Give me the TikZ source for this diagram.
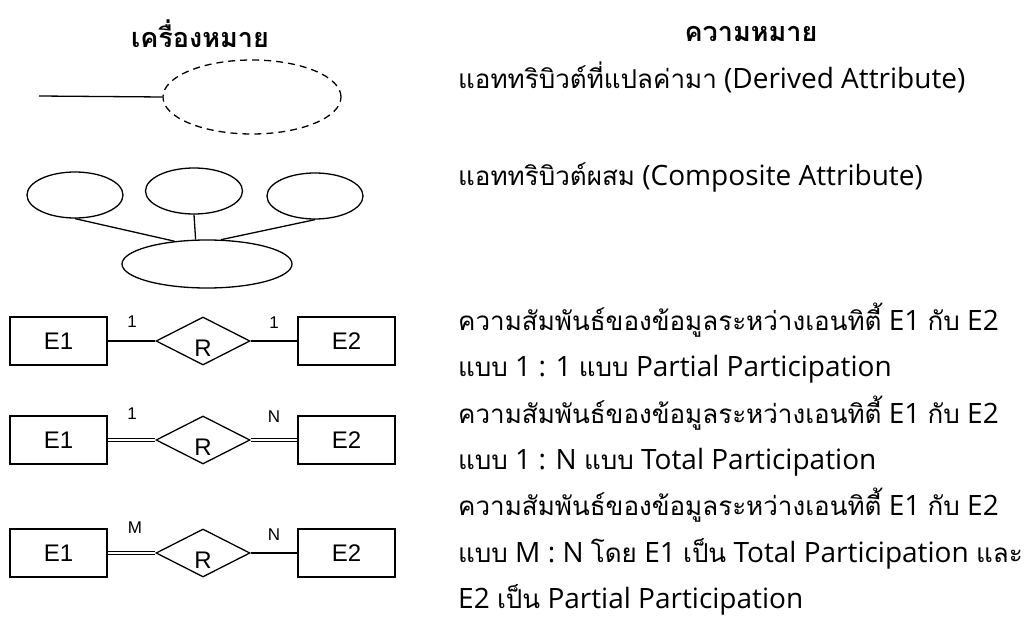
\documentclass[tikz,border=0pt]{standalone}
\usepackage{fontspec}
\setmainfont[Script=Thai]{Loma}
\newfontfamily\thai[Script=Thai]{Loma}
\newfontfamily\latn{Open Sans}
\newfontfamily\arial{Liberation Sans}
\newcommand{\T}[1]{{\thai\fontsize{26}{26}\selectfont #1}}
\usetikzlibrary{shapes.geometric}
\tikzset{
  ent/.style={draw, line width=1.3pt, minimum width=97pt, minimum height=48pt, inner sep=0pt, font=\arial\fontsize{24}{24}\selectfont},
  rel/.style={draw, diamond, line width=1.3pt, minimum width=94pt, minimum height=48pt, inner sep=0pt},
  rlab/.style={font=\arial\fontsize{24}{24}\selectfont},
  card/.style={font=\arial\fontsize{17}{17}\selectfont},
  attr/.style={draw, ellipse, line width=1.3pt, inner sep=0pt},
  conn/.style={line width=1.3pt},
  dbl/.style={double, double distance=2.4pt, line width=0.9pt},
  txt/.style={anchor=base west, inner sep=0pt, font=\latn\fontsize{28}{28}\selectfont},
  head/.style={inner sep=0pt, font=\thai\bfseries\fontsize{27}{27}\selectfont},
}
\begin{document}
\begin{tikzpicture}[x=1pt,y=-1pt]
\useasboundingbox (0,0) rectangle (1032,628);
% headers
\node[head] (h1) at (200,34) {เครื่องหมาย};
\node[head] (h2) at (751,34) {ความหมาย};
% derived attribute
\node[attr, dashed, dash pattern=on 7pt off 5pt, minimum width=178pt, minimum height=74pt] (d) at (252,97) {};
\coordinate (ds) at (39,96);
\draw[conn] (ds) -- (d.west);
% composite attribute
\node[attr, minimum width=96pt, minimum height=46pt] (c1) at (75,195) {};
\node[attr, minimum width=97pt, minimum height=46pt] (c2) at (194,191) {};
\node[attr, minimum width=96pt, minimum height=46pt] (c3) at (315,196) {};
\node[attr, minimum width=170pt, minimum height=48pt] (cb) at (207,264) {};
\draw[conn] (c1.south) -- (cb.145);
\draw[conn] (c2.south) -- (cb.115);
\draw[conn] (c3.south) -- (cb.60);
% row 1
\node[ent] (a1) at (58.5,341) {E1};
\node[rel, label={[rlab, yshift=-7pt]center:R}] (r1) at (203,341) {};
\node[ent] (b1) at (346.5,341) {E2};
\draw[conn] (a1.east) -- (r1.west);
\draw[conn] (r1.east) -- (b1.west);
\node[card] (k11) at (132,322) {1};
\node[card] (k12) at (274,323) {1};
% row 2
\node[ent] (a2) at (58.5,440) {E1};
\node[rel, label={[rlab, yshift=-7pt]center:R}] (r2) at (203,440) {};
\node[ent] (b2) at (346.5,440) {E2};
\draw[dbl] (a2.east) -- (r2.west);
\draw[dbl] (r2.east) -- (b2.west);
\node[card] (k21) at (132,414) {1};
\node[card] (k22) at (274,417) {N};
% row 3
\node[ent] (a3) at (58.5,553) {E1};
\node[rel, label={[rlab, yshift=-7pt]center:R}] (r3) at (203,553) {};
\node[ent] (b3) at (346.5,553) {E2};
\draw[dbl] (a3.east) -- (r3.west);
\draw[conn] (r3.east) -- (b3.west);
\node[card] (k31) at (135,528) {M};
\node[card] (k32) at (274,535) {N};
% descriptions
\node[txt] (t1) at (458,89) {\T{แอททริบิวต์ที่แปลค่ามา} (Derived Attribute)};
\node[txt] (t2) at (458,186) {\T{แอททริบิวต์ผสม} (Composite Attribute)};
\node[txt] (t3) at (458,330) {\T{ความสัมพันธ์ของข้อมูลระหว่างเอนทิตี้} E1 \T{กับ} E2};
\node[txt] (t4) at (458,376) {\T{แบบ} 1 : 1 \T{แบบ} Partial Participation};
\node[txt] (t5) at (458,423) {\T{ความสัมพันธ์ของข้อมูลระหว่างเอนทิตี้} E1 \T{กับ} E2};
\node[txt] (t6) at (458,469) {\T{แบบ} 1 : N \T{แบบ} Total Participation};
\node[txt] (t7) at (458,515) {\T{ความสัมพันธ์ของข้อมูลระหว่างเอนทิตี้} E1 \T{กับ} E2};
\node[txt] (t8) at (458,562) {\T{แบบ} M : N \T{โดย} E1 \T{เป็น} Total Participation \T{และ}};
\node[txt] (t9) at (458,608) {E2 \T{เป็น} Partial Participation};
\end{tikzpicture}
\end{document}
